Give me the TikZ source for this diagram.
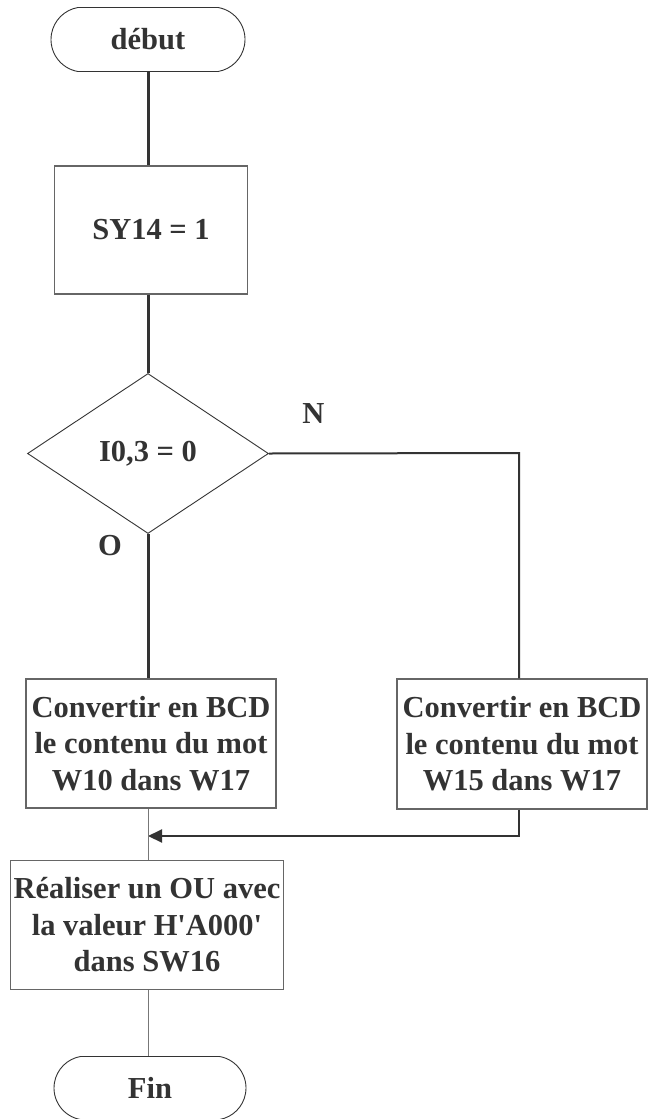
\documentclass[tikz,border=0pt]{standalone}
\usepackage{fontspec}
\setmainfont{Liberation Serif}
\usetikzlibrary{shapes.geometric,shapes.misc,arrows.meta}
\definecolor{ink}{HTML}{333333}
\definecolor{frame}{HTML}{666666}
\definecolor{thinline}{HTML}{777777}
\begin{document}
\begin{tikzpicture}[x=1pt,y=1pt,
  txt/.style={text=ink,font=\fontsize{30.5}{36.5}\selectfont\bfseries,align=center,inner sep=0pt},
  term/.style={txt,rounded rectangle,rounded rectangle arc length=160,draw=ink,line width=0.9pt,minimum height=64pt},
  proc/.style={txt,rectangle,draw=frame,line width=1.2pt},
  cond/.style={txt,diamond,draw=ink,line width=0.9pt,minimum width=241pt,minimum height=160pt},
  heavy/.style={draw=ink,line width=3pt},
  medium/.style={draw=ink,line width=2pt},
  light/.style={draw=thinline,line width=1pt},
  lbl/.style={txt}
]
\useasboundingbox (0,0) rectangle (651,-1119);
\node[term,minimum width=194pt] (debut) at (148,-39.5) {début};
\node[proc,minimum width=192.6pt,minimum height=128pt] (sy) at (151,-230) {SY14 = 1};
\node[cond] (dia) at (148,-453.5) {I0,3 = 0};
\node[proc,minimum width=250pt,minimum height=129pt] (lbox) at (151,-743.5) {Convertir en BCD\\le contenu du mot\\W10 dans W17};
\node[proc,minimum width=250pt,minimum height=130pt] (rbox) at (522,-744) {Convertir en BCD\\le contenu du mot\\W15 dans W17};
\node[proc,minimum width=272.6pt,minimum height=128.3pt] (rea) at (147,-925) {Réaliser un OU avec\\la valeur H\textquotesingle A000\textquotesingle\\dans SW16};
\node[term,minimum width=192pt,minimum height=63pt] (fin) at (150,-1088) {Fin};
\node[lbl] (lN) at (313.5,-414) {N};
\node[lbl] (lO) at (110,-546) {O};
\coordinate (corner) at (519,-453);
\coordinate (merge) at (148,-836);
\draw[heavy] (debut.south) -- (debut.south |- sy.north);
\draw[heavy] (dia.north |- sy.south) -- (dia.north);
\draw[heavy] (dia.south) -- (dia.south |- lbox.north);
\draw[medium] (dia.east) -- (corner) -- (corner |- rbox.north);
\draw[medium,-{Triangle[length=14pt,width=13pt]}] (corner |- rbox.south) |- (merge);
\draw[light] (dia.south |- lbox.south) -- (dia.south |- rea.north);
\draw[light] (dia.south |- rea.south) -- (dia.south |- fin.north);
\end{tikzpicture}
\end{document}
